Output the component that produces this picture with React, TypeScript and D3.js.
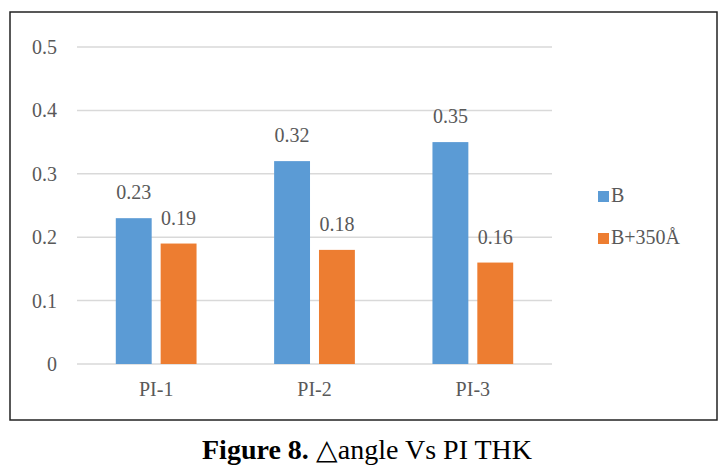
import { useEffect, useRef } from "react"
import * as d3 from "d3"

const categories = ["PI-1", "PI-2", "PI-3"]
const seriesNames = ["B", "B+350Å"]
const seriesB = [0.23, 0.32, 0.35]
const seriesB350 = [0.19, 0.18, 0.16]
const yTicks = [0, 0.1, 0.2, 0.3, 0.4, 0.5]
const colors = ["#5b9bd5", "#ed7d31"]

const App = () => {
  const svgRef = useRef<SVGSVGElement>(null)

  useEffect(() => {
    const svg = d3.select(svgRef.current)
    svg.selectAll("*").remove()

    const font = "'Liberation Serif', 'Times New Roman', serif"
    const grey = "#595959"

    // outer frame
    svg.append("rect")
      .attr("x", 10)
      .attr("y", 12)
      .attr("width", 707)
      .attr("height", 408)
      .attr("fill", "white")
      .attr("stroke", "#222")
      .attr("stroke-width", 1.5)

    const x0 = d3.scaleBand().domain(categories).range([77, 552]).paddingInner(0.49).paddingOuter(0.245)
    const x1 = d3.scaleBand().domain(seriesNames).range([0, x0.bandwidth()]).paddingInner(0.2)
    const y = d3.scaleLinear().domain([0, 0.5]).range([364, 47])

    // grid lines
    svg.append("g")
      .selectAll("line")
      .data(yTicks)
      .enter()
      .append("line")
      .attr("x1", 77)
      .attr("x2", 552)
      .attr("y1", (d) => y(d))
      .attr("y2", (d) => y(d))
      .attr("stroke", "#d9d9d9")
      .attr("stroke-width", 1.5)

    // y tick labels
    svg.append("g")
      .selectAll("text")
      .data(yTicks)
      .enter()
      .append("text")
      .attr("x", 57)
      .attr("y", (d) => y(d) + 7)
      .attr("text-anchor", "end")
      .style("font-family", font)
      .style("font-size", "20px")
      .style("fill", grey)
      .text((d) => (d === 0 ? "0" : d3.format(".1f")(d)))

    const rows = categories.map((c, i) => ({ cat: c, values: [seriesB[i], seriesB350[i]] }))

    const groups = svg.append("g")
      .selectAll("g")
      .data(rows)
      .enter()
      .append("g")
      .attr("transform", (d) => `translate(${x0(d.cat)},0)`)

    const cells = groups.selectAll("g")
      .data((d) => d.values.map((v, j) => ({ name: seriesNames[j], v, j })))
      .enter()
      .append("g")

    cells.append("rect")
      .attr("x", (d) => x1(d.name)!)
      .attr("y", (d) => y(d.v))
      .attr("width", x1.bandwidth())
      .attr("height", (d) => y(0) - y(d.v))
      .attr("fill", (d) => colors[d.j])

    cells.append("text")
      .attr("x", (d) => x1(d.name)! + x1.bandwidth() / 2)
      .attr("y", (d) => y(d.v) - 19)
      .attr("text-anchor", "middle")
      .style("font-family", font)
      .style("font-size", "20px")
      .style("fill", grey)
      .text((d) => d3.format(".2f")(d.v))

    // x labels
    svg.append("g")
      .selectAll("text")
      .data(categories)
      .enter()
      .append("text")
      .attr("x", (d) => x0(d)! + x0.bandwidth() / 2)
      .attr("y", 396)
      .attr("text-anchor", "middle")
      .style("font-family", font)
      .style("font-size", "20px")
      .style("fill", grey)
      .text((d) => d)

    // legend
    const legend = svg.append("g")
      .selectAll("g")
      .data(seriesNames)
      .enter()
      .append("g")
      .attr("transform", (d, i) => `translate(598,${191 + i * 42})`)

    legend.append("rect")
      .attr("width", 11)
      .attr("height", 11)
      .attr("fill", (d, i) => colors[i])

    legend.append("text")
      .attr("x", 13)
      .attr("y", 11)
      .style("font-family", font)
      .style("font-size", "20px")
      .style("fill", grey)
      .text((d) => d)

    // caption
    const cap = svg.append("text")
      .attr("x", 367)
      .attr("y", 459)
      .attr("text-anchor", "middle")
      .style("font-family", font)
      .style("font-size", "28px")
      .style("fill", "#000")
    cap.append("tspan").style("font-weight", "bold").text("Figure 8.")
    cap.append("tspan").text(" △angle Vs PI THK")
  }, [])

  return (
    <svg
      ref={svgRef}
      width={725}
      height={471}
      style={{ position: "absolute", left: 0, top: 0, background: "white" }}
    ></svg>
  )
}

export default App
